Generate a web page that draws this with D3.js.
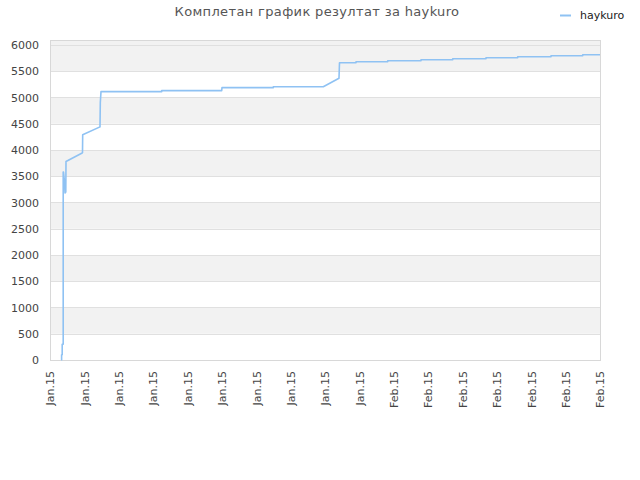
<!DOCTYPE html>
<html>
<head>
<meta charset="utf-8">
<script src="https://cdn.jsdelivr.net/npm/d3@7"></script>
<style>
  body { margin: 0; background: #fff; }
  svg { display: block; font-family: "DejaVu Sans", sans-serif; }
</style>
</head>
<body>
<svg id="chart" width="640" height="480"></svg>
<script>
// ---- data ----
const title = "Комплетан график резултат за haykuro";
const seriesName = "haykuro";
const times = [
  "2015-01-02T23:40", "2015-01-03T00:18", "2015-01-03T00:18", "2015-01-03T01:33",
  "2015-01-03T01:33", "2015-01-03T03:39", "2015-01-03T03:39", "2015-01-03T04:17",
  "2015-01-03T06:22", "2015-01-03T07:25", "2015-01-03T09:05", "2015-01-03T09:31",
  "2015-01-04T18:24", "2015-01-04T20:04", "2015-01-04T20:29", "2015-01-06T08:44",
  "2015-01-06T09:22", "2015-01-06T10:49", "2015-01-11T17:58", "2015-01-11T17:58",
  "2015-01-16T23:38", "2015-01-17T00:16", "2015-01-21T11:43", "2015-01-21T11:43",
  "2015-01-25T20:26", "2015-01-27T05:19", "2015-01-27T06:22", "2015-01-28T16:56",
  "2015-01-28T16:56", "2015-01-31T11:20", "2015-01-31T11:20", "2015-02-03T09:05",
  "2015-02-03T09:05", "2015-02-06T03:30", "2015-02-06T03:30", "2015-02-09T01:13",
  "2015-02-09T01:13", "2015-02-11T19:37", "2015-02-11T19:37", "2015-02-14T17:22",
  "2015-02-14T17:22", "2015-02-17T11:46", "2015-02-17T11:46", "2015-02-19T00:00"
];
const values = [
  0, 0, 100, 100,
  300, 300, 3580, 3580,
  3400, 3180, 3200, 3780,
  3937, 3950, 4290, 4440,
  4900, 5111, 5111, 5130,
  5130, 5187, 5187, 5205,
  5205, 5365, 5663, 5663,
  5682, 5682, 5701, 5701,
  5720, 5720, 5739, 5739,
  5758, 5758, 5777, 5777,
  5796, 5796, 5815, 5815
];
const xTickDates = [
  "2015-01-02", "2015-01-05", "2015-01-08", "2015-01-11", "2015-01-14",
  "2015-01-17", "2015-01-20", "2015-01-23", "2015-01-26", "2015-01-29",
  "2015-02-01", "2015-02-04", "2015-02-07", "2015-02-10", "2015-02-13",
  "2015-02-16", "2015-02-19"
];
const yTicks = [0, 500, 1000, 1500, 2000, 2500, 3000, 3500, 4000, 4500, 5000, 5500, 6000];
const yMax = 6095;

// ---- chart ----
const parseT = d3.timeParse("%Y-%m-%dT%H:%M");
const parseD = d3.timeParse("%Y-%m-%d");
const data = times.map((t, i) => ({ t: parseT(t), v: values[i] }));
const tickDates = xTickDates.map(parseD);

const pLeft = 50, pRight = 600, pTop = 40, pBottom = 360;
const svg = d3.select("#chart");

const x = d3.scaleTime().domain([tickDates[0], tickDates[tickDates.length - 1]]).range([pLeft, pRight]);
const y = d3.scaleLinear().domain([0, yMax]).range([pBottom, pTop]);

// bands
const bandEdges = yTicks.concat([yMax]);
const bands = svg.append("g");
for (let i = 0; i < bandEdges.length - 1; i++) {
  const gray = (i % 2 === 1) || i === bandEdges.length - 2;
  if (!gray) continue;
  bands.append("rect")
    .attr("x", pLeft)
    .attr("y", y(bandEdges[i + 1]))
    .attr("width", pRight - pLeft)
    .attr("height", y(bandEdges[i]) - y(bandEdges[i + 1]))
    .attr("fill", "#f2f2f2");
}

// grid
svg.append("g").selectAll("line").data(yTicks).join("line")
  .attr("x1", pLeft).attr("x2", pRight)
  .attr("y1", d => Math.round(y(d)) + 0.5).attr("y2", d => Math.round(y(d)) + 0.5)
  .attr("stroke", "#e0e0e0").attr("stroke-width", 1);

// border
svg.append("rect")
  .attr("x", pLeft + 0.5).attr("y", pTop + 0.5)
  .attr("width", pRight - pLeft).attr("height", pBottom - pTop)
  .attr("fill", "none").attr("stroke", "#d8d8d8").attr("stroke-width", 1);

// y axis
const yAxis = d3.axisLeft(y).tickValues(yTicks).tickSize(0).tickPadding(0).tickFormat(d3.format("d"));
const gy = svg.append("g").attr("transform", `translate(${pLeft - 11},0)`).call(yAxis);
gy.select(".domain").remove();
gy.selectAll("text").attr("font-size", 11).attr("fill", "#444").attr("font-family", "DejaVu Sans, sans-serif");

// x axis
const xAxis = d3.axisBottom(x).tickValues(tickDates).tickSize(0).tickFormat(d3.timeFormat("%b.%y"));
const gx = svg.append("g").attr("transform", `translate(0,${pBottom})`).call(xAxis);
gx.select(".domain").remove();
gx.selectAll("text")
  .attr("font-size", 11).attr("fill", "#444").attr("font-family", "DejaVu Sans, sans-serif")
  .attr("transform", "rotate(-90)")
  .attr("text-anchor", "end")
  .attr("x", -11).attr("y", 0).attr("dy", "0.35em");

// line
const line = d3.line().x(d => x(d.t)).y(d => y(d.v));
svg.append("path").datum(data)
  .attr("d", line)
  .attr("fill", "none")
  .attr("stroke", "#8fc2f3")
  .attr("stroke-width", 1.6)
  .attr("stroke-linejoin", "round");

// title
svg.append("text")
  .attr("x", 317).attr("y", 16)
  .attr("text-anchor", "middle")
  .attr("font-size", 13)
  .attr("letter-spacing", "0.35px")
  .attr("fill", "#555")
  .text(title);

// legend
svg.append("line")
  .attr("x1", 560).attr("x2", 571).attr("y1", 15.5).attr("y2", 15.5)
  .attr("stroke", "#8fc2f3").attr("stroke-width", 2);
svg.append("text")
  .attr("x", 580).attr("y", 15).attr("dy", "0.35em")
  .attr("font-size", 11).attr("fill", "#222")
  .text(seriesName);
</script>
</body>
</html>
